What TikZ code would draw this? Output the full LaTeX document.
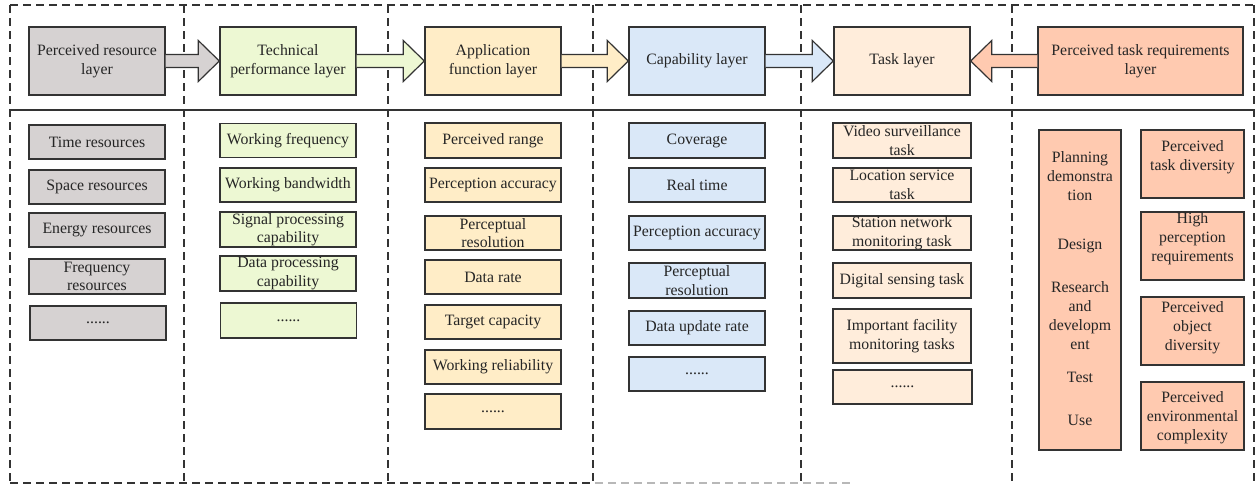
\documentclass[tikz,border=0pt]{standalone}
\usepackage{fontspec}
\setmainfont{Liberation Serif}
\usetikzlibrary{calc}
\definecolor{cgray}{HTML}{D6D2D2}
\definecolor{cgreen}{HTML}{EDF8D3}
\definecolor{cyellow}{HTML}{FFEDC7}
\definecolor{cblue}{HTML}{DAE8F8}
\definecolor{ctask}{HTML}{FFEDDB}
\definecolor{csal}{HTML}{FFCAB0}
\definecolor{cline}{HTML}{333333}
\definecolor{ctext}{HTML}{252525}
\tikzset{
  bx/.style={draw=cline, line width=1.4pt, inner sep=0pt, align=center,
    minimum width=136pt, minimum height=34pt, text=ctext,
    font=\fontsize{15.8}{18.5}\selectfont},
  hd/.style={bx, minimum height=68pt},
  txt/.style={inner sep=0pt, align=center, text=ctext,
    font=\fontsize{15.8}{19}\selectfont},
  dashline/.style={draw=cline, line width=1.2pt, dash pattern=on 8pt off 5pt},
  arrowstyle/.style={draw=cline, line width=1.2pt, line join=miter}
}
\newcommand\blkarrow[4]{%
  \filldraw[arrowstyle, fill=#3] let \p1=(#1), \p2=(#2) in
   (\x1,{\y1+6.5pt}) -- ({\x2-(#4)},{\y1+6.5pt}) -- ({\x2-(#4)},{\y1+20.5pt})
   -- (\x2,\y1) -- ({\x2-(#4)},{\y1-20.5pt}) -- ({\x2-(#4)},{\y1-6.5pt}) -- (\x1,{\y1-6.5pt});}
\begin{document}
\begin{tikzpicture}[x=1pt,y=-1pt]
\useasboundingbox (0,0) rectangle (1257,485);
% frame
\draw[dashline] (10,5) -- (1254,5);
\draw[dashline] (10,5) -- (10,483);
\draw[dashline] (1254,5) -- (1254,485);
\draw[dashline] (10,483) -- (595,483);
\draw[dashline, draw=cline!35] (595,483) -- (850,483);
\foreach \xx in {184,388,593,801,1012} \draw[dashline] (\xx,5) -- (\xx,483);
\draw[draw=cline, line width=1.2pt] (10,110) -- (1254,110);
% headers
\node[hd, fill=cgray]   (h1) at (97,61)  {Perceived resource\\layer};
\node[hd, fill=cgreen]  (h2) at (288,61) {Technical\\performance layer};
\node[hd, fill=cyellow] (h3) at (493,61) {Application\\function layer};
\node[hd, fill=cblue]   (h4) at (697,61) {Capability layer};
\node[hd, fill=ctask]   (h5) at (902,61) {Task layer};
\node[hd, fill=csal, minimum width=205pt] (h6) at (1140.5,61) {Perceived task requirements\\layer};
\blkarrow{h1.east}{h2.west}{cgray}{21pt}
\blkarrow{h2.east}{h3.west}{cgreen}{21pt}
\blkarrow{h3.east}{h4.west}{cyellow}{21pt}
\blkarrow{h4.east}{h5.west}{cblue}{21pt}
\blkarrow{h6.west}{h5.east}{csal}{-21pt}
% column 1
\node[bx, fill=cgray] (g1) at (97,142) {Time resources};
\node[bx, fill=cgray] (g2) at (97,187) {Space resources};
\node[bx, fill=cgray] (g3) at (97,230) {Energy resources};
\node[bx, fill=cgray, minimum height=35pt] (g4) at (97,276.5) {Frequency\\resources};
\node[bx, fill=cgray] (g5) at (98,323) {......};
% column 2
\node[bx, fill=cgreen] (t1) at (288,140.5) {Working frequency};
\node[bx, fill=cgreen] (t2) at (288,185) {Working bandwidth};
\node[bx, fill=cgreen, minimum height=35pt] (t3) at (288,229.5) {Signal processing\\capability};
\node[bx, fill=cgreen, minimum height=35pt] (t4) at (288,273.5) {Data processing\\capability};
\node[bx, fill=cgreen, minimum height=35pt] (t5) at (288.5,320.5) {......};
% column 3
\node[bx, fill=cyellow, minimum height=35pt] (a1) at (493,140.5) {Perceived range};
\node[bx, fill=cyellow] (a2) at (493,185) {Perception accuracy};
\node[bx, fill=cyellow] (a3) at (493,233) {Perceptual\\resolution};
\node[bx, fill=cyellow] (a4) at (493,277) {Data rate};
\node[bx, fill=cyellow] (a5) at (493,322) {Target capacity};
\node[bx, fill=cyellow] (a6) at (493,367) {Working reliability};
\node[bx, fill=cyellow, minimum height=35pt] (a7) at (493,411.5) {......};
% column 4
\node[bx, fill=cblue, minimum height=35pt] (c1) at (697,140.5) {Coverage};
\node[bx, fill=cblue] (c2) at (697,185) {Real time};
\node[bx, fill=cblue] (c3) at (697,233) {Perception accuracy};
\node[bx, fill=cblue, minimum height=35pt] (c4) at (697,280.5) {Perceptual\\resolution};
\node[bx, fill=cblue] (c5) at (697,328) {Data update rate};
\node[bx, fill=cblue] (c6) at (697,374) {......};
% column 5
\node[bx, fill=ctask, minimum width=138pt, minimum height=35pt] (k1) at (902,140.5) {Video surveillance\\task};
\node[bx, fill=ctask, minimum width=138pt] (k2) at (902,185) {Location service\\task};
\node[bx, fill=ctask, minimum width=138pt] (k3) at (902,233) {Station network\\monitoring task};
\node[bx, fill=ctask, minimum width=138pt, minimum height=35pt] (k4) at (902,280.5) {Digital sensing task};
\node[bx, fill=ctask, minimum width=138pt, minimum height=54pt] (k5) at (902,336) {Important facility\\monitoring tasks};
\node[bx, fill=ctask, minimum width=139pt] (k6) at (902.5,387) {......};
% column 6
\node[bx, fill=csal, minimum width=82pt, minimum height=320pt] (p0) at (1080,290) {};
\node[txt] (p1) at (1080,176) {Planning\\demonstra\\tion};
\node[txt] (p2) at (1080,246) {Design};
\node[txt] (p3) at (1080,316) {Research\\and\\developm\\ent};
\node[txt] (p4) at (1080,377) {Test};
\node[txt] (p5) at (1080,420) {Use};
\node[bx, fill=csal, minimum width=103pt, minimum height=68pt] (r1) at (1192.5,164) {};
\node[bx, fill=csal, minimum width=103pt, minimum height=68pt] (r2) at (1192.5,246) {};
\node[bx, fill=csal, minimum width=103pt, minimum height=68pt] (r3) at (1192.5,331) {};
\node[bx, fill=csal, minimum width=103pt, minimum height=68pt] (r4) at (1192.5,416) {};
\node[txt] (r1t) at (1192.5,157) {Perceived\\task diversity};
\node[txt] (r2t) at (1192.5,239) {High\\perception\\requirements};
\node[txt] (r3t) at (1192.5,328) {Perceived\\object\\diversity};
\node[txt] (r4t) at (1192.5,418) {Perceived\\environmental\\complexity};
\end{tikzpicture}
\end{document}
